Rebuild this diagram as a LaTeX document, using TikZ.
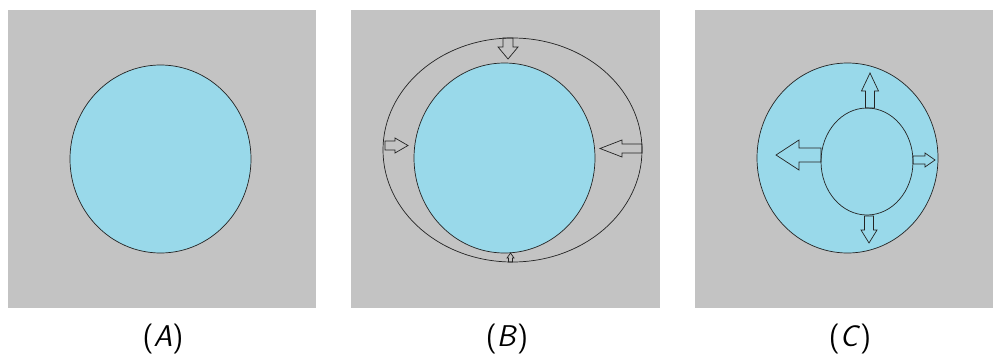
\documentclass[tikz,border=0pt]{standalone}
\usepackage{tikz}
\usepackage{xcolor}
\definecolor{PaintGray}{RGB}{195,195,195}
\definecolor{PaintBlue}{RGB}{153,217,234}
\definecolor{EdgeDark}{RGB}{35,35,35}

\tikzset{
pics/blockarr/.style args={#1/#2/#3/#4}{code={
\draw[arrline] (0,-#3/2) -- (#1-#2,-#3/2) -- (#1-#2,-#4/2) -- (#1,0)
  -- (#1-#2,#4/2) -- (#1-#2,#3/2) -- (0,#3/2) -- cycle;
}}
}

\begin{document}
\begin{tikzpicture}[
x=1pt,y=-1pt,
panel/.style={fill=PaintGray,draw=none},
cell/.style={fill=PaintBlue,draw=EdgeDark,line width=0.7pt},
ring/.style={draw=EdgeDark,line width=0.7pt},
arrline/.style={draw=EdgeDark,line width=0.7pt,line join=miter},
caption/.style={font=\fontsize{30}{36}\selectfont\sffamily,inner sep=0pt}
]
\useasboundingbox (0,0) rectangle (993,356);

% panels
\fill[panel] (8,10) rectangle (316,308);
\fill[panel] (351,10) rectangle (660,308);
\fill[panel] (695,10) rectangle (993,308);

% (A)
\draw[cell] (160.5,159) ellipse [x radius=90.5,y radius=94];

% (B)
\draw[ring] (512.5,150) ellipse [x radius=129.5,y radius=112];
\draw[cell] (504.5,158) ellipse [x radius=90.5,y radius=95];
\pic[rotate=270] at (508,38) {blockarr=21/12/10/20};
\pic at (385,145.5) {blockarr=23/13/9/15};
\pic[rotate=180] at (642,148.5) {blockarr=42/22/9/17};
\pic[rotate=90] at (510.5,262) {blockarr=9/5/4/7};

% (C)
\draw[cell] (847.5,158) ellipse [x radius=90.5,y radius=95];
\draw[cell] (867,161.5) ellipse [x radius=46,y radius=53.5];
\pic[rotate=90] at (870,108) {blockarr=35/18/9/17};
\pic[rotate=180] at (821,155) {blockarr=45/23/14/30};
\pic at (913,160) {blockarr=22/10/8/14};
\pic[rotate=270] at (869,216) {blockarr=27/13/9/16};

% captions
\node[caption] (capA) at (163,339) {(\textit{A})};
\node[caption] (capB) at (507,339) {(\textit{B})};
\node[caption] (capC) at (850,339) {(\textit{C})};

\end{tikzpicture}
\end{document}
